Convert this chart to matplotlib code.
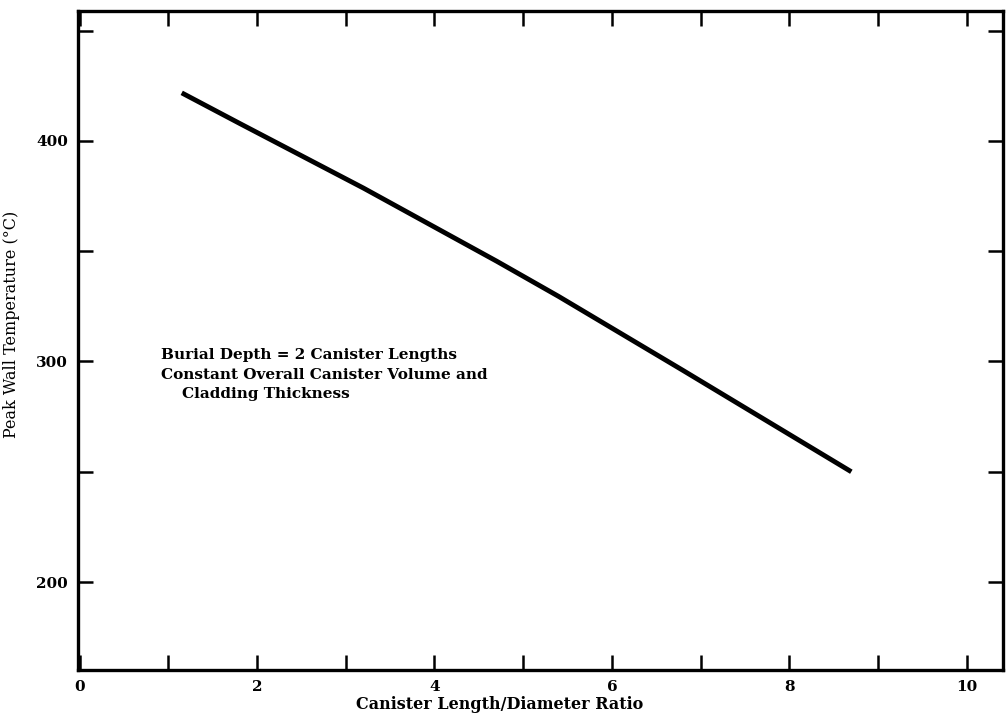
import matplotlib
matplotlib.use("Agg")
from matplotlib import pyplot as plt
import numpy as np

# values
ratio = [1.15, 1.8, 3.2, 4.7, 5.4, 6.8, 8.7]
temp = [421.8, 408.0, 378.6, 345.5, 329.5, 296.0, 250.0]

xticks = np.arange(0, 11, 1)
xlabels = ['0', '', '2', '', '4', '', '6', '', '8', '', '10']
yticks = np.arange(200, 451, 50)
ylabels = ['200', '', '300', '', '400', '']

note = ["Burial Depth = 2 Canister Lengths",
        "Constant Overall Canister Volume and",
        "    Cladding Thickness"]

plt.rcParams['font.family'] = ['DejaVu Serif']

fig = plt.figure(figsize=(10.06, 7.26), dpi=100)
ax = fig.add_axes([0.0775, 0.0771, 0.9195, 0.908])

ax.plot(ratio, temp, color='black', lw=3.5, solid_capstyle='butt')

ax.set_xlim(-0.02, 10.41)
ax.set_ylim(160.1, 459)

ax.set_xticks(xticks)
ax.set_xticklabels(xlabels, fontsize=11, fontweight='bold')
ax.set_yticks(yticks)
ax.set_yticklabels(ylabels, fontsize=11, fontweight='bold')
ax.tick_params(direction='in', length=11, width=1.8, top=True, right=True, pad=7)

for s in ax.spines.values():
    s.set_linewidth(2.4)

ax.set_xlabel("Canister Length/Diameter Ratio", fontsize=11.5, fontweight='bold')
ax.xaxis.set_label_coords(0.456, -0.04)
ax.set_ylabel("Peak Wall Temperature (°C)", fontsize=11.5)
ax.yaxis.set_label_coords(-0.063, 0.525)

ax.text(0.92, 306, "\n".join(note), fontsize=11, fontweight='bold',
        va='top', ha='left', linespacing=1.5)

fig.savefig('out.png', dpi=100)
